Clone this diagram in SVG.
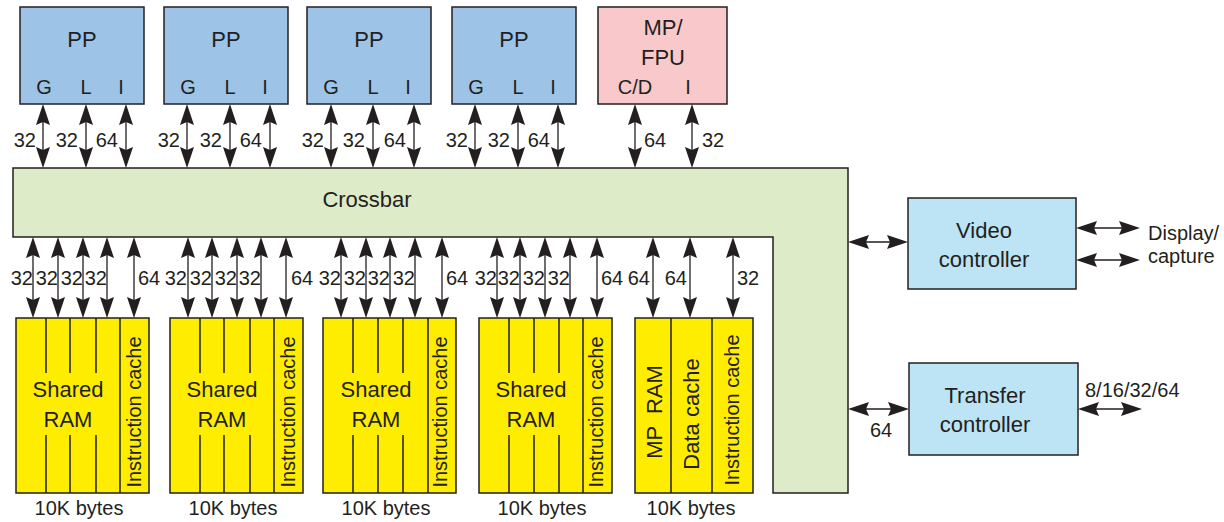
<svg xmlns="http://www.w3.org/2000/svg" xmlns:xlink="http://www.w3.org/1999/xlink" width="1224" height="522" viewBox="0 0 1224 522">
<style>
text{font-family:"Liberation Sans",Arial,sans-serif;fill:#231f20}
.b{font-size:22px}
.s{font-size:20px}
.m{text-anchor:middle}
.e{text-anchor:end}
.box{stroke:#231f20;stroke-width:1.5}
.pp{fill:#9dc3e6}
.mp{fill:#f8c8ca}
.xb{fill:#deebc8}
.ram{fill:#ffed00}
.ctl{fill:#bce4f5}
.div{stroke:#231f20;stroke-width:1.5;fill:none}
.sh{stroke:#231f20;stroke-width:1.3;fill:none}
.hd{fill:#231f20}
</style>
<defs>
<path id="hu" class="hd" d="M0,0 L7,21 L0,18 L-7,21 Z"/>
<path id="hn" class="hd" d="M0,0 L7,-21 L0,-18 L-7,-21 Z"/>
<path id="hl" class="hd" d="M0,0 L21,-7 L18,0 L21,7 Z"/>
<path id="hr" class="hd" d="M0,0 L-21,-7 L-18,0 L-21,7 Z"/>
</defs>

<g id="crossbar">
<path class="box xb" d="M13,168 H848 V493 H773 V237 H13 Z"/>
<text class="b m" x="367" y="207">Crossbar</text>
</g>

<g id="pp1">
<rect class="box pp" x="20" y="7" width="124" height="97"/>
<text class="b m" x="82" y="47">PP</text>
<text class="s m" x="44" y="94">G</text><text class="s m" x="86" y="94">L</text><text class="s m" x="121" y="94">I</text>
</g>
<g id="pp2">
<rect class="box pp" x="164" y="7" width="124" height="97"/>
<text class="b m" x="226" y="47">PP</text>
<text class="s m" x="188" y="94">G</text><text class="s m" x="230" y="94">L</text><text class="s m" x="265" y="94">I</text>
</g>
<g id="pp3">
<rect class="box pp" x="307" y="7" width="124" height="97"/>
<text class="b m" x="369" y="47">PP</text>
<text class="s m" x="331" y="94">G</text><text class="s m" x="373" y="94">L</text><text class="s m" x="408" y="94">I</text>
</g>
<g id="pp4">
<rect class="box pp" x="452" y="7" width="124" height="97"/>
<text class="b m" x="514" y="47">PP</text>
<text class="s m" x="476" y="94">G</text><text class="s m" x="518" y="94">L</text><text class="s m" x="553" y="94">I</text>
</g>
<g id="mpfpu">
<rect class="box mp" x="598" y="7" width="129" height="97"/>
<text class="b m" x="663" y="35">MP/</text>
<text class="b m" x="663" y="65">FPU</text>
<text class="s m" x="635" y="94">C/D</text><text class="s m" x="688" y="94">I</text>
</g>

<g id="ram1">
<rect class="box ram" x="16" y="318" width="133" height="175"/>
<path class="div" d="M46,318V373M46,435V493M70,318V373M70,435V493M96,318V373M96,435V493M120,318V493"/>
<text class="b m" x="68" y="397">Shared</text><text class="b m" x="68" y="427">RAM</text>
<text class="s m" transform="translate(141,412) rotate(-90)">Instruction cache</text>
<text class="s m" x="79" y="515">10K bytes</text>
</g>
<g id="ram2">
<rect class="box ram" x="170" y="318" width="133" height="175"/>
<path class="div" d="M200,318V373M200,435V493M224,318V373M224,435V493M250,318V373M250,435V493M274,318V493"/>
<text class="b m" x="222" y="397">Shared</text><text class="b m" x="222" y="427">RAM</text>
<text class="s m" transform="translate(295,412) rotate(-90)">Instruction cache</text>
<text class="s m" x="233" y="515">10K bytes</text>
</g>
<g id="ram3">
<rect class="box ram" x="323" y="318" width="133" height="175"/>
<path class="div" d="M353,318V373M353,435V493M378,318V373M378,435V493M403,318V373M403,435V493M428,318V493"/>
<text class="b m" x="376" y="397">Shared</text><text class="b m" x="376" y="427">RAM</text>
<text class="s m" transform="translate(447,412) rotate(-90)">Instruction cache</text>
<text class="s m" x="386" y="515">10K bytes</text>
</g>
<g id="ram4">
<rect class="box ram" x="479" y="318" width="133" height="175"/>
<path class="div" d="M509,318V373M509,435V493M534,318V373M534,435V493M559,318V373M559,435V493M583,318V493"/>
<text class="b m" x="531" y="397">Shared</text><text class="b m" x="531" y="427">RAM</text>
<text class="s m" transform="translate(603,412) rotate(-90)">Instruction cache</text>
<text class="s m" x="542" y="515">10K bytes</text>
</g>
<g id="mpram">
<rect class="box ram" x="635" y="318" width="118" height="175"/>
<path class="div" d="M671,318V493M712,318V493"/>
<text class="b m" word-spacing="6" transform="translate(662,412) rotate(-90)">MP RAM</text>
<text class="b m" transform="translate(699,414) rotate(-90)">Data cache</text>
<text class="s m" transform="translate(739,410) rotate(-90)">Instruction cache</text>
<text class="s m" x="691" y="515">10K bytes</text>
</g>

<g id="video">
<rect class="box ctl" x="908" y="198" width="168" height="91"/>
<text class="b m" x="984" y="238">Video</text>
<text class="b m" x="984" y="267">controller</text>
</g>
<g id="transfer">
<rect class="box ctl" x="909" y="363" width="169" height="92"/>
<text class="b m" x="985" y="403">Transfer</text>
<text class="b m" x="985" y="432">controller</text>
</g>

<g id="connectors">
<path class="sh" d="M43,110V162M86,110V162M126,110V162M187,110V162M230,110V162M270,110V162M331,110V162M373,110V162M414,110V162M475,110V162M518,110V162M558,110V162M635,110V162M692,110V162"/>
<g>
<use href="#hu" xlink:href="#hu" x="43" y="104"/><use href="#hn" xlink:href="#hn" x="43" y="168"/>
<use href="#hu" xlink:href="#hu" x="86" y="104"/><use href="#hn" xlink:href="#hn" x="86" y="168"/>
<use href="#hu" xlink:href="#hu" x="126" y="104"/><use href="#hn" xlink:href="#hn" x="126" y="168"/>
<use href="#hu" xlink:href="#hu" x="187" y="104"/><use href="#hn" xlink:href="#hn" x="187" y="168"/>
<use href="#hu" xlink:href="#hu" x="230" y="104"/><use href="#hn" xlink:href="#hn" x="230" y="168"/>
<use href="#hu" xlink:href="#hu" x="270" y="104"/><use href="#hn" xlink:href="#hn" x="270" y="168"/>
<use href="#hu" xlink:href="#hu" x="331" y="104"/><use href="#hn" xlink:href="#hn" x="331" y="168"/>
<use href="#hu" xlink:href="#hu" x="373" y="104"/><use href="#hn" xlink:href="#hn" x="373" y="168"/>
<use href="#hu" xlink:href="#hu" x="414" y="104"/><use href="#hn" xlink:href="#hn" x="414" y="168"/>
<use href="#hu" xlink:href="#hu" x="475" y="104"/><use href="#hn" xlink:href="#hn" x="475" y="168"/>
<use href="#hu" xlink:href="#hu" x="518" y="104"/><use href="#hn" xlink:href="#hn" x="518" y="168"/>
<use href="#hu" xlink:href="#hu" x="558" y="104"/><use href="#hn" xlink:href="#hn" x="558" y="168"/>
<use href="#hu" xlink:href="#hu" x="635" y="104"/><use href="#hn" xlink:href="#hn" x="635" y="168"/>
<use href="#hu" xlink:href="#hu" x="692" y="104"/><use href="#hn" xlink:href="#hn" x="692" y="168"/>
</g>
<path class="sh" d="M33,243V312M58,243V312M83,243V312M107,243V312M134,243V312M188,243V312M212,243V312M237,243V312M261,243V312M286,243V312M341,243V312M366,243V312M390,243V312M415,243V312M442,243V312M497,243V312M520,243V312M545,243V312M570,243V312M597,243V312M653,243V312M690,243V312M733,243V312"/>
<g>
<use href="#hu" xlink:href="#hu" x="33" y="237"/><use href="#hn" xlink:href="#hn" x="33" y="318"/>
<use href="#hu" xlink:href="#hu" x="58" y="237"/><use href="#hn" xlink:href="#hn" x="58" y="318"/>
<use href="#hu" xlink:href="#hu" x="83" y="237"/><use href="#hn" xlink:href="#hn" x="83" y="318"/>
<use href="#hu" xlink:href="#hu" x="107" y="237"/><use href="#hn" xlink:href="#hn" x="107" y="318"/>
<use href="#hu" xlink:href="#hu" x="134" y="237"/><use href="#hn" xlink:href="#hn" x="134" y="318"/>
<use href="#hu" xlink:href="#hu" x="188" y="237"/><use href="#hn" xlink:href="#hn" x="188" y="318"/>
<use href="#hu" xlink:href="#hu" x="212" y="237"/><use href="#hn" xlink:href="#hn" x="212" y="318"/>
<use href="#hu" xlink:href="#hu" x="237" y="237"/><use href="#hn" xlink:href="#hn" x="237" y="318"/>
<use href="#hu" xlink:href="#hu" x="261" y="237"/><use href="#hn" xlink:href="#hn" x="261" y="318"/>
<use href="#hu" xlink:href="#hu" x="286" y="237"/><use href="#hn" xlink:href="#hn" x="286" y="318"/>
<use href="#hu" xlink:href="#hu" x="341" y="237"/><use href="#hn" xlink:href="#hn" x="341" y="318"/>
<use href="#hu" xlink:href="#hu" x="366" y="237"/><use href="#hn" xlink:href="#hn" x="366" y="318"/>
<use href="#hu" xlink:href="#hu" x="390" y="237"/><use href="#hn" xlink:href="#hn" x="390" y="318"/>
<use href="#hu" xlink:href="#hu" x="415" y="237"/><use href="#hn" xlink:href="#hn" x="415" y="318"/>
<use href="#hu" xlink:href="#hu" x="442" y="237"/><use href="#hn" xlink:href="#hn" x="442" y="318"/>
<use href="#hu" xlink:href="#hu" x="497" y="237"/><use href="#hn" xlink:href="#hn" x="497" y="318"/>
<use href="#hu" xlink:href="#hu" x="520" y="237"/><use href="#hn" xlink:href="#hn" x="520" y="318"/>
<use href="#hu" xlink:href="#hu" x="545" y="237"/><use href="#hn" xlink:href="#hn" x="545" y="318"/>
<use href="#hu" xlink:href="#hu" x="570" y="237"/><use href="#hn" xlink:href="#hn" x="570" y="318"/>
<use href="#hu" xlink:href="#hu" x="597" y="237"/><use href="#hn" xlink:href="#hn" x="597" y="318"/>
<use href="#hu" xlink:href="#hu" x="653" y="237"/><use href="#hn" xlink:href="#hn" x="653" y="318"/>
<use href="#hu" xlink:href="#hu" x="690" y="237"/><use href="#hn" xlink:href="#hn" x="690" y="318"/>
<use href="#hu" xlink:href="#hu" x="733" y="237"/><use href="#hn" xlink:href="#hn" x="733" y="318"/>
</g>
<path class="sh" d="M854,242H902M854,409H903M1082,228H1134M1082,260H1134M1084,409H1136"/>
<g>
<use href="#hl" xlink:href="#hl" x="848" y="242"/><use href="#hr" xlink:href="#hr" x="908" y="242"/>
<use href="#hl" xlink:href="#hl" x="848" y="409"/><use href="#hr" xlink:href="#hr" x="909" y="409"/>
<use href="#hl" xlink:href="#hl" x="1076" y="228"/><use href="#hr" xlink:href="#hr" x="1140" y="228"/>
<use href="#hl" xlink:href="#hl" x="1076" y="260"/><use href="#hr" xlink:href="#hr" x="1140" y="260"/>
<use href="#hl" xlink:href="#hl" x="1078" y="409"/><use href="#hr" xlink:href="#hr" x="1142" y="409"/>
</g>

<g>
<text class="s e" x="36" y="147">32</text><text class="s e" x="78" y="147">32</text><text class="s e" x="118" y="147">64</text>
<text class="s e" x="180" y="147">32</text><text class="s e" x="222" y="147">32</text><text class="s e" x="262" y="147">64</text>
<text class="s e" x="324" y="147">32</text><text class="s e" x="365" y="147">32</text><text class="s e" x="406" y="147">64</text>
<text class="s e" x="468" y="147">32</text><text class="s e" x="510" y="147">32</text><text class="s e" x="550" y="147">64</text>
<text class="s" x="644" y="147">64</text><text class="s" x="702" y="147">32</text>
<text class="s e" x="33" y="285">32</text><text class="s e" x="58" y="285">32</text><text class="s e" x="83" y="285">32</text><text class="s e" x="107" y="285">32</text><text class="s" x="138" y="285">64</text>
<text class="s e" x="187" y="285">32</text><text class="s e" x="212" y="285">32</text><text class="s e" x="237" y="285">32</text><text class="s e" x="261" y="285">32</text><text class="s" x="291" y="285">64</text>
<text class="s e" x="341" y="285">32</text><text class="s e" x="366" y="285">32</text><text class="s e" x="390" y="285">32</text><text class="s e" x="415" y="285">32</text><text class="s" x="446" y="285">64</text>
<text class="s e" x="497" y="285">32</text><text class="s e" x="520" y="285">32</text><text class="s e" x="545" y="285">32</text><text class="s e" x="570" y="285">32</text><text class="s" x="601" y="285">64</text>
<text class="s e" x="650" y="285">64</text><text class="s e" x="687" y="285">64</text><text class="s" x="737" y="285">32</text>
<text class="s" x="1148" y="240">Display/</text>
<text class="s" x="1148" y="263">capture</text>
<text class="s" x="1085" y="397">8/16/32/64</text>
<text class="s" x="870" y="437">64</text>
</g>
</g>
</svg>
